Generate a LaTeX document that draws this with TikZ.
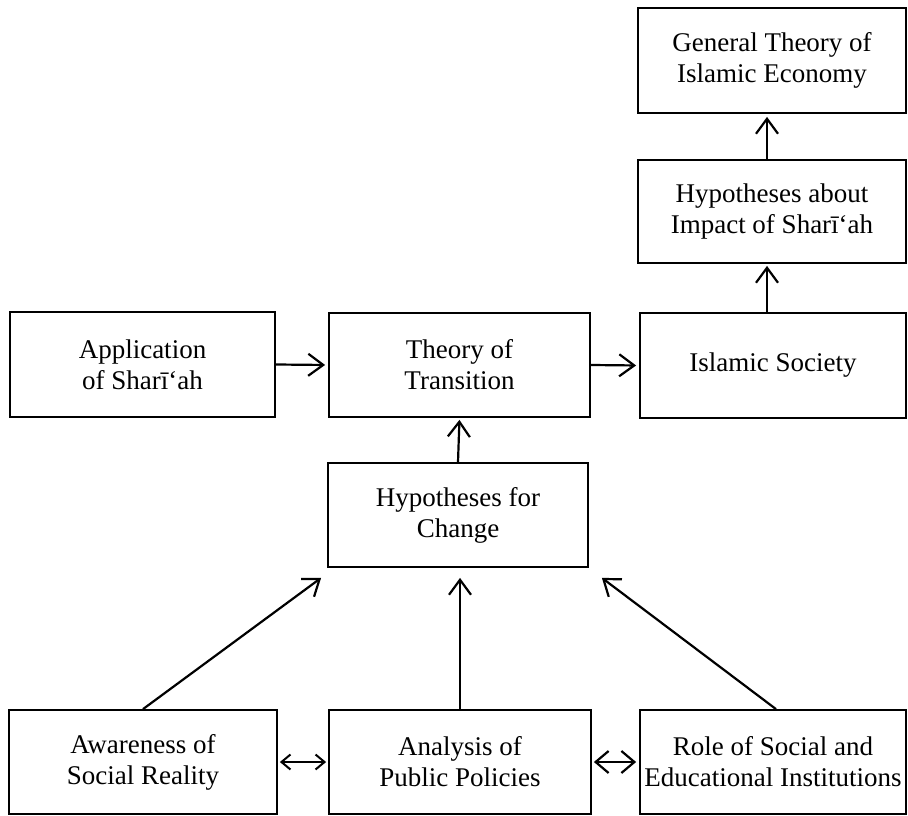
\documentclass[tikz,border=0pt]{standalone}
\usepackage{fontspec}
\setmainfont{Liberation Serif}
\usetikzlibrary{arrows.meta}
\begin{document}
\begin{tikzpicture}[x=1pt,y=-1pt,
  box/.style={draw, line width=1.8pt, align=center, inner sep=0pt,
    font=\fontsize{27pt}{31pt}\selectfont},
  arr/.style={line width=2.2pt, -{Straight Barb[length=15pt,width=22pt,line width=2.2pt]}},
  dbl/.style={line width=2.2pt, {Straight Barb[length=9pt,width=15pt,line width=2pt]}-{Straight Barb[length=9pt,width=15pt,line width=2pt]}},
  dblb/.style={line width=2.2pt, {Straight Barb[length=13pt,width=22pt,line width=2.2pt]}-{Straight Barb[length=13pt,width=22pt,line width=2.2pt]}}
]
\useasboundingbox (0,0) rectangle (908,816);
\node[box, minimum width=268pt, minimum height=105pt] (gen) at (772,60.5) {General Theory of\\Islamic Economy};
\node[box, minimum width=268pt, minimum height=103pt] (hypab) at (772,211.5) {Hypotheses about\\Impact of Sharī‘ah};
\node[box, minimum width=266pt, minimum height=105pt] (isl) at (773,365.5) {Islamic Society};
\node[box, minimum width=261pt, minimum height=104pt] (theo) at (459.5,365) {Theory of\\Transition};
\node[box, minimum width=265pt, minimum height=105pt] (app) at (142.5,364.5) {Application\\of Sharī‘ah};
\node[box, minimum width=260pt, minimum height=104pt] (hypch) at (458,515) {Hypotheses for\\Change};
\node[box, minimum width=268pt, minimum height=104pt] (aware) at (143,762) {Awareness of\\Social Reality};
\node[box, minimum width=262pt, minimum height=104pt] (anal) at (460,762) {Analysis of\\Public Policies};
\node[box, minimum width=266pt, minimum height=104pt] (role) at (773,762) {Role of Social and\\Educational Institutions};

\draw[arr, shorten >=3pt] ([xshift=-5pt]hypab.north) -- ([xshift=-5pt]gen.south);
\draw[arr, shorten >=2pt] ([xshift=-6pt]isl.north) -- ([xshift=-5pt]hypab.south);
\draw[arr, shorten >=3pt] (app.east) -- (theo.west);
\draw[arr, shorten >=3pt] (theo.east) -- (isl.west);
\draw[arr, shorten >=2pt] (hypch.north) -- (theo.south);
\draw[arr] (aware.north) -- ([xshift=-6pt,yshift=-10pt]hypch.south west);
\draw[arr, shorten >=10pt] (anal.north) -- (anal.north |- hypch.south);
\draw[arr] ([xshift=3pt]role.north) -- ([xshift=13pt,yshift=-10pt]hypch.south east);
\draw[dbl, shorten <=2pt, shorten >=2pt] (aware.east) -- (anal.west);
\draw[dblb, shorten <=2pt, shorten >=3pt] (anal.east) -- (role.west);
\end{tikzpicture}
\end{document}
